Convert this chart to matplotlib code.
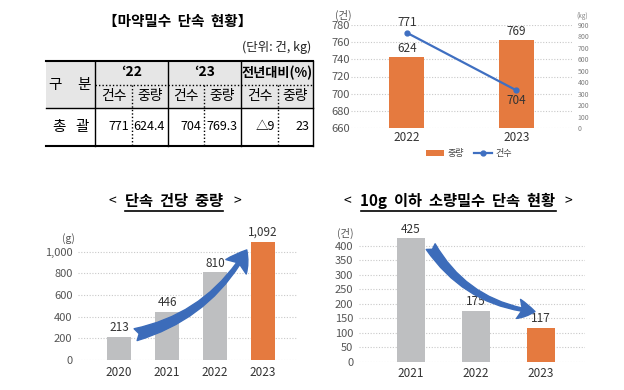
import matplotlib
matplotlib.use('Agg')
import matplotlib.pyplot as plt
from matplotlib.patches import FancyArrowPatch, Rectangle
from matplotlib.ticker import FuncFormatter

plt.rcParams['font.family'] = ['Noto Sans CJK KR', 'DejaVu Sans']

# ---------------- data ----------------
table_title = '【마약밀수  단속  현황】'
unit_note = '(단위: 건, kg)'
year_headers = ['‘22', '‘23', '전년대비(%)']
sub_headers = ['건수', '중량']
header_label = ['구', '분']
row_label = ['총', '괄']
table_values = ['771', '624.4', '704', '769.3', '△9', '23']

years_a = ['2022', '2023']
weight_kg = [624, 769]
cases = [771, 704]

years_b = ['2020', '2021', '2022', '2023']
per_case_g = [213, 446, 810, 1092]

years_c = ['2021', '2022', '2023']
small_cases = [425, 175, 117]

ORANGE = '#E57A3F'
GRAY = '#BEBFC1'
BLUE = '#3F6FC1'
ARROW = '#3C6CBA'
TICK = '#555555'
GRID = '#c9c9c9'

fig = plt.figure(figsize=(6.24, 3.9), dpi=100)
fig.patch.set_facecolor('white')
bg = fig.add_axes([0, 0, 1, 1], zorder=-5)
bg.set_xlim(0, 624)
bg.set_ylim(390, 0)
bg.axis('off')

# ---------------- table ----------------
bg.text(178, 21, table_title, ha='center', va='center', fontsize=10.5, fontweight='bold')
bg.text(311, 47, unit_note, ha='right', va='center', fontsize=9, color='#222222')

L, R = 46, 312.5
top, mid, hdr, bot = 61, 84.5, 108, 146
bg.add_patch(Rectangle((L, top), R - L, hdr - top, facecolor='#e6e6e6', edgecolor='none'))
bg.plot([L, R], [top, top], color='black', lw=1.5)
bg.plot([L, R], [bot, bot], color='black', lw=1.5)
bg.plot([L, R], [hdr, hdr], color='black', lw=1.0)
bg.plot([95, R], [mid, mid], color='black', lw=1.0, ls=(0, (1, 1.5)))
for xv in [95, 168, 241, R]:
    bg.plot([xv, xv], [top, bot], color='black', lw=1.0)
for xv in [132, 204, 278]:
    bg.plot([xv, xv], [mid, bot], color='black', lw=1.0, ls=(0, (1, 1.5)))

bg.text(55, 85, header_label[0], ha='center', va='center', fontsize=10.5)
bg.text(84, 85, header_label[1], ha='center', va='center', fontsize=10.5)
bg.text(59, 127, row_label[0], ha='center', va='center', fontsize=10.5)
bg.text(82, 127, row_label[1], ha='center', va='center', fontsize=10.5)

major_edges = [95, 168, 241, R]
for i, h in enumerate(year_headers):
    cx = (major_edges[i] + major_edges[i + 1]) / 2
    bg.text(cx, 72.5, h, ha='center', va='center', fontsize=9.5 if i == 2 else 10,
            fontweight='bold')
sub_edges = [95, 132, 168, 204, 241, 278, R]
for j in range(6):
    cx = (sub_edges[j] + sub_edges[j + 1]) / 2
    bg.text(cx, 96, sub_headers[j % 2], ha='center', va='center', fontsize=10)
    bg.text(sub_edges[j + 1] - 3, 127, table_values[j], ha='right', va='center',
            fontsize=9)

# ---------------- top-right chart ----------------
pos_a = [351 / 624, 1 - 128 / 390, 221 / 624, 103 / 390]
ax1 = fig.add_axes(pos_a)
ax1.set_ylim(660, 780)
ax1.set_yticks(range(660, 781, 20))
ax1.set_xlim(-0.51, 1.51)
ax1.grid(axis='y', color=GRID, lw=0.8, ls=(0, (1, 1.5)))
ax1.set_axisbelow(True)
xa = list(range(len(years_a)))
ax1.set_xticks(xa)
ax1.set_xticklabels(years_a)
ax1.tick_params(axis='y', labelsize=8, colors=TICK, length=0, pad=1)
ax1.tick_params(axis='x', labelsize=8.5, colors='#333333', length=0, pad=2)
for s in ax1.spines.values():
    s.set_visible(False)

ax2 = ax1.twinx()
ax2.set_ylim(0, 900)
ax2.set_yticks(range(0, 901, 100))
ax2.tick_params(axis='y', labelsize=5, colors='#808080', length=0, pad=4)
bars_a = ax2.bar(xa, weight_kg, width=0.32, color=ORANGE, label='중량')
for s in ax2.spines.values():
    s.set_visible(False)
for xi, v in zip(xa, weight_kg):
    ax2.annotate(f'{v}', (xi, v), xytext=(0, 1.5), textcoords='offset points',
                 ha='center', va='bottom', fontsize=8.5, color='#333333')

ax3 = ax1.twinx()
ax3.set_ylim(660, 780)
ax3.set_yticks([])
for s in ax3.spines.values():
    s.set_visible(False)
line_a, = ax3.plot(xa, cases, color=BLUE, lw=1.6, marker='o', ms=3.5, label='건수')
ax3.annotate(f'{cases[0]}', (xa[0], cases[0]), xytext=(0, 2.5), textcoords='offset points',
             ha='center', va='bottom', fontsize=8.5, color='#333333')
ax3.annotate(f'{cases[1]}', (xa[1], cases[1]), xytext=(0, -3), textcoords='offset points',
             ha='center', va='top', fontsize=8.5, color='#333333')

bg.text(343, 15, '(건)', ha='center', va='center', fontsize=7.5, color=TICK)
bg.text(582, 16, '(kg)', ha='center', va='center', fontsize=4.5, color='#808080')
fig.legend(handles=[bars_a, line_a], loc='center', bbox_to_anchor=(469 / 624, 1 - 154 / 390),
           ncol=2, frameon=False, fontsize=6.5, handlelength=2.0, handleheight=0.6,
           columnspacing=1.2, handletextpad=0.3, labelcolor='#444444')

# ---------------- bottom-left chart ----------------
ax_b = fig.add_axes([78 / 624, 1 - 360 / 390, 219 / 624, 119 / 390])
xb = list(range(len(years_b)))
ax_b.set_xlim(-0.854, 3.708)
ax_b.set_ylim(0, 1100)
ax_b.set_yticks(range(0, 1001, 200))
ax_b.yaxis.set_major_formatter(FuncFormatter(lambda v, p: f'{v:,.0f}'))
ax_b.grid(axis='y', color=GRID, lw=0.8, ls=(0, (1, 1.5)))
ax_b.set_axisbelow(True)
colors_b = [GRAY] * (len(years_b) - 1) + [ORANGE]
ax_b.bar(xb, per_case_g, width=0.52, color=colors_b)
ax_b.set_xticks(xb)
ax_b.set_xticklabels(years_b)
ax_b.tick_params(axis='y', labelsize=8, colors=TICK, length=0, pad=4)
ax_b.tick_params(axis='x', labelsize=8.5, colors='#333333', length=0, pad=4)
for s in ax_b.spines.values():
    s.set_visible(False)
for xi, v in zip(xb, per_case_g):
    ax_b.annotate(f'{v:,}', (xi, v), xytext=(0, 2), textcoords='offset points',
                  ha='center', va='bottom', fontsize=8.5, color='#333333')
arr_b = FancyArrowPatch((xb[0] + 0.29, per_case_g[0] + 15), (xb[3] - 0.31, 1040),
                        connectionstyle='arc3,rad=0.22',
                        arrowstyle='fancy,head_length=0.72,head_width=0.9,tail_width=0.44',
                        mutation_scale=20, color=ARROW, clip_on=False, zorder=5)
ax_b.add_patch(arr_b)
bg.text(68, 239, '(g)', ha='center', va='center', fontsize=7.5, color=TICK)

# ---------------- bottom-right chart ----------------
ax_c = fig.add_axes([359 / 624, 1 - 361.7 / 390, 226 / 624, 124.7 / 390])
xc = list(range(len(years_c)))
ax_c.set_xlim(-0.8, 2.677)
ax_c.set_ylim(0, 430)
ax_c.set_yticks(range(0, 401, 50))
ax_c.grid(axis='y', color=GRID, lw=0.8, ls=(0, (1, 1.5)))
ax_c.set_axisbelow(True)
colors_c = [GRAY] * (len(years_c) - 1) + [ORANGE]
ax_c.bar(xc, small_cases, width=0.43, color=colors_c)
ax_c.set_xticks(xc)
ax_c.set_xticklabels(years_c)
ax_c.tick_params(axis='y', labelsize=8, colors=TICK, length=0, pad=4)
ax_c.tick_params(axis='x', labelsize=8.5, colors='#333333', length=0, pad=4)
for s in ax_c.spines.values():
    s.set_visible(False)
for xi, v in zip(xc, small_cases):
    ax_c.annotate(f'{v}', (xi, v), xytext=(0, 2), textcoords='offset points',
                  ha='center', va='bottom', fontsize=8.5, color='#333333')
arr_c = FancyArrowPatch((xc[0] + 0.28, small_cases[0] - 20), (xc[2] - 0.05, 172),
                        connectionstyle='arc3,rad=0.25',
                        arrowstyle='fancy,head_length=0.6,head_width=0.7,tail_width=0.38',
                        mutation_scale=20, color=ARROW, clip_on=False, zorder=5)
ax_c.add_patch(arr_c)
bg.text(345, 233, '(건)', ha='center', va='center', fontsize=7.5, color=TICK)

# ---------------- titles with underline ----------------
t1 = bg.text(174, 201, '단속  건당  중량', ha='center', va='center', fontsize=11, fontweight='bold')
bg.text(112, 201, '<', ha='center', va='center', fontsize=10)
bg.text(237, 201, '>', ha='center', va='center', fontsize=10)
t2 = bg.text(458, 201, '10g  이하  소량밀수  단속  현황', ha='center', va='center', fontsize=11,
             fontweight='bold')
bg.text(347, 201, '<', ha='center', va='center', fontsize=10)
bg.text(568, 201, '>', ha='center', va='center', fontsize=10)

fig.canvas.draw()
r = fig.canvas.get_renderer()
for t in (t1, t2):
    bb = t.get_window_extent(r)
    bg.plot([bb.x0, bb.x1], [210.5, 210.5], color='black', lw=1.2)

fig.savefig('out.png', dpi=100)
